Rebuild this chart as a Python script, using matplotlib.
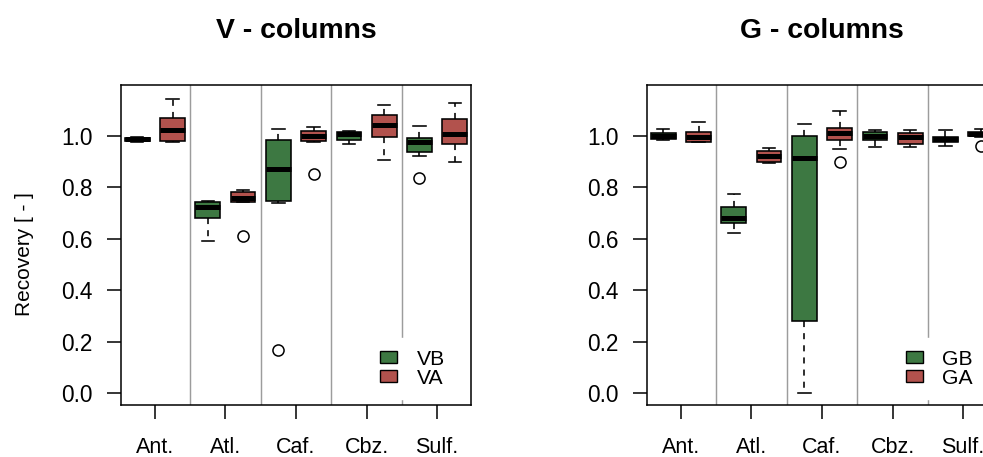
import numpy as np
import matplotlib
matplotlib.use("Agg")
import matplotlib.pyplot as plt
from matplotlib.patches import Patch

plt.rcParams['font.family'] = ['Liberation Sans', 'DejaVu Sans']

categories = ["Ant.", "Atl.", "Caf.", "Cbz.", "Sulf."]

# ---- V - columns ----
vb_whislo = [0.976, 0.591, 0.740, 0.969, 0.920]
vb_q1     = [0.980, 0.681, 0.745, 0.985, 0.937]
vb_med    = [0.986, 0.723, 0.869, 1.005, 0.975]
vb_q3     = [0.992, 0.742, 0.982, 1.016, 0.991]
vb_whishi = [0.996, 0.747, 1.027, 1.019, 1.039]
vb_fliers = [[], [], [0.167], [], [0.834]]

va_whislo = [0.974, 0.741, 0.974, 0.907, 0.898]
va_q1     = [0.979, 0.741, 0.979, 0.995, 0.967]
va_med    = [1.022, 0.757, 1.000, 1.040, 1.005]
va_q3     = [1.070, 0.781, 1.019, 1.080, 1.066]
va_whishi = [1.141, 0.789, 1.035, 1.121, 1.126]
va_fliers = [[], [0.611], [0.850], [], []]

# ---- G - columns ----
gb_whislo = [0.985, 0.622, 0.000, 0.956, 0.961]
gb_q1     = [0.988, 0.659, 0.279, 0.983, 0.974]
gb_med    = [0.997, 0.681, 0.912, 1.000, 0.986]
gb_q3     = [1.009, 0.722, 1.000, 1.013, 0.996]
gb_whishi = [1.027, 0.775, 1.044, 1.021, 1.021]
gb_fliers = [[], [], [], [], []]

ga_whislo = [0.976, 0.893, 0.947, 0.956, 0.995]
ga_q1     = [0.977, 0.899, 0.983, 0.967, 0.999]
ga_med    = [0.995, 0.921, 1.012, 0.993, 1.005]
ga_q3     = [1.013, 0.942, 1.031, 1.012, 1.013]
ga_whishi = [1.053, 0.951, 1.096, 1.023, 1.025]
ga_fliers = [[], [], [0.899], [], [0.958]]

yticks = [0.0, 0.2, 0.4, 0.6, 0.8, 1.0]

GREEN = "#3d7842"
RED = "#b2524d"


def make_stats(whislo, q1, med, q3, whishi, fliers):
    return [dict(whislo=a, q1=b, med=c, q3=d, whishi=e, fliers=f)
            for a, b, c, d, e, f in zip(whislo, q1, med, q3, whishi, fliers)]


def draw_panel(ax, title, s1, s2, color1, color2, labels):
    pos = np.arange(1, len(categories) + 1)
    for stats, offs, col in ((s1, -0.25, color1), (s2, 0.25, color2)):
        ax.bxp(stats, positions=pos + offs, widths=0.35, patch_artist=True,
               capwidths=0.175,
               boxprops=dict(facecolor=col, edgecolor='black', linewidth=1.15),
               medianprops=dict(color='black', linewidth=3.6, solid_capstyle='butt'),
               whiskerprops=dict(color='black', linewidth=1.15, linestyle=(0, (3.8, 3.8))),
               capprops=dict(color='black', linewidth=1.15),
               flierprops=dict(marker='o', markerfacecolor='none', markeredgecolor='black',
                               markersize=8, markeredgewidth=1.1))
    for x in pos[:-1] + 0.5:
        ax.axvline(x, color='#9c9c9c', linewidth=1.05, zorder=1)
    ax.set_xlim(0.52, 5.48)
    ax.set_ylim(-0.0466, 1.197)
    ax.set_xticks(pos)
    ax.set_xticklabels(categories, fontsize=15.5)
    ax.set_yticks(yticks)
    ax.set_yticklabels([f"{v:.1f}" for v in yticks], fontsize=16.3)
    ax.tick_params(axis='both', direction='out', length=10, width=1.1, color='black')
    ax.tick_params(axis='x', pad=13)
    ax.tick_params(axis='y', pad=10.5)
    for sp in ax.spines.values():
        sp.set_linewidth(1.1)
        sp.set_color('black')
    ax.set_title(title, fontsize=20.4, fontweight='bold', pad=34)
    handles = [Patch(facecolor=color1, edgecolor='black', linewidth=1.0),
               Patch(facecolor=color2, edgecolor='black', linewidth=1.0)]
    leg = ax.legend(handles, labels, loc='center left', bbox_to_anchor=(0.706, 0.114),
                    borderaxespad=0, frameon=True, fancybox=False, fontsize=15.2,
                    handlelength=0.82, handleheight=0.55, handletextpad=0.92,
                    labelspacing=0.0, borderpad=0.55)
    fr = leg.get_frame()
    fr.set_facecolor('white')
    fr.set_edgecolor('white')
    fr.set_alpha(1)
    leg.set_zorder(5)


fig = plt.figure(figsize=(9.83, 4.57), dpi=100)
axL = fig.add_axes([121 / 983, 52 / 457, 350 / 983, 320 / 457])
axR = fig.add_axes([647 / 983, 52 / 457, 350 / 983, 320 / 457])

draw_panel(axL, "V - columns",
           make_stats(vb_whislo, vb_q1, vb_med, vb_q3, vb_whishi, vb_fliers),
           make_stats(va_whislo, va_q1, va_med, va_q3, va_whishi, va_fliers),
           GREEN, RED, ["VB", "VA"])
draw_panel(axR, "G - columns",
           make_stats(gb_whislo, gb_q1, gb_med, gb_q3, gb_whishi, gb_fliers),
           make_stats(ga_whislo, ga_q1, ga_med, ga_q3, ga_whishi, ga_fliers),
           GREEN, RED, ["GB", "GA"])

axL.set_ylabel("Recovery [ - ]", fontsize=15)
axL.yaxis.set_label_coords(-0.248, 0.472)

fig.savefig("out.png", dpi=100)
